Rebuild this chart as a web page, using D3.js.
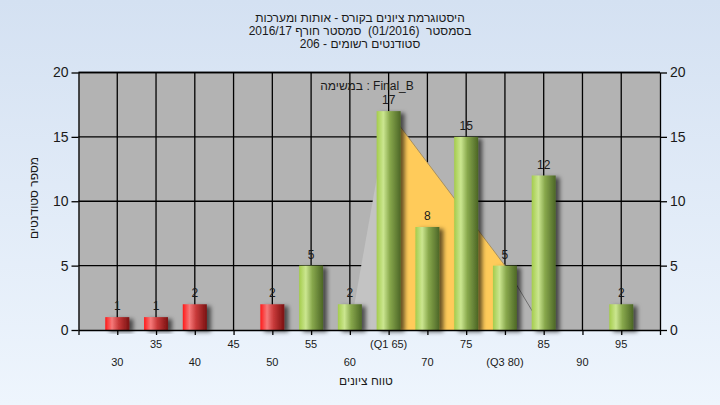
<!DOCTYPE html>
<html><head><meta charset="utf-8">
<script src="https://cdn.jsdelivr.net/npm/d3@7"></script>
<style>
html,body{margin:0;padding:0;}
body{width:720px;height:405px;overflow:hidden;}
text{font-family:"Liberation Sans","DejaVu Sans",Arial,sans-serif;fill:#1a1a1a;}
</style></head>
<body><svg id="c" width="720" height="405"></svg>
<script>
// ---- data ----
const categories = [30,35,40,45,50,55,60,65,70,75,80,85,90,95];
const counts     = [1,1,2,0,2,5,2,17,8,15,5,12,0,2];
const tickLabels = ["30","35","40","45","50","55","60","(Q1 65)","70","75","(Q3 80)","85","90","95"];
const passMark = 55;
const q1 = 65, q3 = 80;
const curveX = [60,65,80,85];
const curveY = [0,17,5,0];
const yTicks = [0,5,10,15,20];
const titleLines = ["היסטוגרמת ציונים בקורס - אותות ומערכות",
                    "בסמסטר  (01/2016)  סמסטר חורף 2016/17",
                    "סטודנטים רשומים - 206"];
const taskLabel = "במשימה : Final_B";
const xTitle = "טווח ציונים";
const yTitle = "מספר סטודנטים";

// ---- layout ----
const L=78.5, R=660, T=72.5, B=330;
const svg = d3.select("#c");
const defs = svg.append("defs");
const bg = defs.append("linearGradient").attr("id","bg").attr("x1",0).attr("y1",0).attr("x2",0).attr("y2",1);
bg.append("stop").attr("offset","0%").attr("stop-color","#d4e1f2");
bg.append("stop").attr("offset","100%").attr("stop-color","#eef5fd");
function cyl(id, c0, c1, c2, c3){
  const g = defs.append("linearGradient").attr("id",id).attr("x1",0).attr("y1",0).attr("x2",1).attr("y2",0);
  g.append("stop").attr("offset","0%").attr("stop-color",c0);
  g.append("stop").attr("offset","28%").attr("stop-color",c1);
  g.append("stop").attr("offset","55%").attr("stop-color",c2);
  g.append("stop").attr("offset","100%").attr("stop-color",c3);
}
cyl("gRed","#ff1a1a","#f57a7a","#c83a3a","#7a1212");
cyl("gGreen","#a4cc4c","#cbe690","#88a84c","#4c6626");
const f = defs.append("filter").attr("id","sh").attr("x","-30%").attr("y","-30%").attr("width","180%").attr("height","160%");
f.append("feDropShadow").attr("dx",4).attr("dy",2).attr("stdDeviation",2).attr("flood-color","#000").attr("flood-opacity",0.6);

svg.append("rect").attr("width",720).attr("height",405).attr("fill","url(#bg)");

const x = d3.scaleLinear().domain([25,100]).range([L,R]);
const y = d3.scaleLinear().domain([0,20]).range([B,T]);

// plot background
svg.append("rect").attr("x",L).attr("y",T).attr("width",R-L).attr("height",B-T).attr("fill","#b3b3b3");

// grid
const grid = svg.append("g").attr("stroke","#000").attr("stroke-width",1.3);
grid.selectAll("line.v").data(categories).join("line")
  .attr("x1",d=>x(d)).attr("x2",d=>x(d)).attr("y1",T).attr("y2",B);
grid.selectAll("line.h").data(yTicks.filter(d=>d>0)).join("line")
  .attr("x1",L).attr("x2",R).attr("y1",d=>y(d)).attr("y2",d=>y(d));

// distribution shape
const pts = curveX.map((d,i)=>[d,curveY[i]]);
const area = d3.area().x(d=>x(d[0])).y0(y(0)).y1(d=>y(d[1]));
svg.append("path").datum(pts.filter(d=>d[0]<=q1)).attr("d",area).attr("fill","#c3c3c3");
svg.append("path").datum(pts.filter(d=>d[0]>=q1&&d[0]<=q3)).attr("d",area).attr("fill","#ffcb5a");
svg.append("path").datum(pts.filter(d=>d[0]>=q1&&d[0]<=q3)).attr("d",d3.line().x(d=>x(d[0])).y(d=>y(d[1])))
  .attr("fill","none").attr("stroke","#a89060").attr("stroke-width",1);
svg.append("path").datum(pts.filter(d=>d[0]>=q3)).attr("d",d3.line().x(d=>x(d[0])).y(d=>y(d[1])))
  .attr("fill","none").attr("stroke","#6e6e6e").attr("stroke-width",1);

// bars
const bw = 24;
const data = categories.map((c,i)=>({c, v:counts[i]}));
svg.append("g").selectAll("rect").data(data.filter(d=>d.v>0)).join("rect")
  .attr("x",d=>x(d.c)-bw/2).attr("y",d=>y(d.v)).attr("width",bw).attr("height",d=>y(0)-y(d.v))
  .attr("fill",d=>d.c<passMark?"url(#gRed)":"url(#gGreen)").attr("filter","url(#sh)");

// value labels
svg.append("g").selectAll("text").data(data.filter(d=>d.v>0)).join("text")
  .attr("x",d=>x(d.c)).attr("y",d=>y(d.v)-7).attr("text-anchor","middle")
  .attr("font-size",12).text(d=>d.v);

// axes
const axStyle = g=>{ g.select(".domain").attr("stroke","#000").attr("stroke-width",1.3);
  g.selectAll(".tick line").attr("stroke","#000").attr("stroke-width",1.3);
  g.selectAll(".tick text").attr("fill","#1a1a1a").attr("font-size",14)
   .attr("font-family","'Liberation Sans',Arial,sans-serif"); };
svg.append("g").attr("transform",`translate(${L},0)`)
  .call(d3.axisLeft(y).tickValues(yTicks).tickSize(7).tickPadding(3).tickSizeOuter(0)).call(axStyle);
svg.append("g").attr("transform",`translate(${R},0)`)
  .call(d3.axisRight(y).tickValues(yTicks).tickSize(7).tickPadding(3).tickSizeOuter(0)).call(axStyle);
const xTickVals = d3.range(25,101,5);
svg.append("g").attr("transform",`translate(0,${B})`)
  .call(d3.axisBottom(x).tickValues(xTickVals).tickSize(5).tickFormat("").tickSizeOuter(0)).call(axStyle);
// top border
svg.append("line").attr("x1",L).attr("x2",R).attr("y1",T).attr("y2",T).attr("stroke","#000").attr("stroke-width",1.3);

// staggered category labels
svg.append("g").selectAll("text").data(categories).join("text")
  .attr("x",d=>x(d)).attr("y",(d,i)=> i%2===1 ? 348 : 366)
  .attr("text-anchor","middle").attr("font-size",11).text((d,i)=>tickLabels[i]);

// titles
svg.append("g").selectAll("text").data(titleLines).join("text")
  .attr("x",360).attr("y",(d,i)=>22+i*13).attr("text-anchor","middle")
  .attr("direction","rtl").style("unicode-bidi","embed").style("white-space","pre")
  .attr("font-size",12).text(d=>d);
svg.append("text").attr("x",367).attr("y",90).attr("text-anchor","middle").attr("font-size",12).text(taskLabel);
svg.append("text").attr("x",366).attr("y",385).attr("text-anchor","middle").attr("font-size",12)
  .attr("direction","rtl").style("unicode-bidi","embed").text(xTitle);
svg.append("text").attr("transform","translate(38,198) rotate(-90)").attr("text-anchor","middle").attr("font-size",12)
  .attr("direction","rtl").style("unicode-bidi","embed").text(yTitle);
</script></body></html>
